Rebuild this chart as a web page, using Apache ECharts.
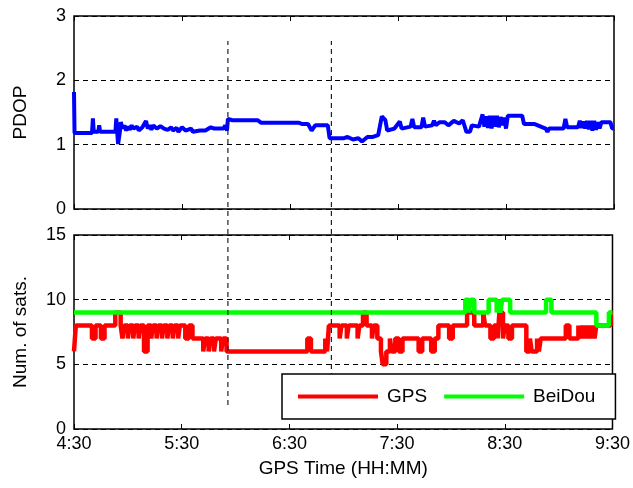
<!DOCTYPE html>
<html lang="en">
<head>
    <meta charset="UTF-8">
    <title>PDOP / Num. of sats.</title>
    <style>
        html, body { margin: 0; padding: 0; background: #fff; }
    </style>
</head>
<body>
<div id="box" style="width: 633px;height: 488px;"></div>
<script src="https://cdn.jsdelivr.net/npm/echarts@6/dist/echarts.min.js" type="text/javascript"></script>
<script type="text/javascript">
    // minutes after 4:30
    let xTickLabels = ['4:30', '5:30', '6:30', '7:30', '8:30', '9:30'];
    let markTimes = [85.5, 143];

    let pdop = [
        [0, 1.82], [0.3, 1.18], [10, 1.18], [10.5, 1.41], [11, 1.2], [13.5, 1.2], [14, 1.3], [14.5, 1.2],
        [23, 1.2], [23.5, 1.41], [24, 1.2], [24.5, 1.01], [25.5, 1.2], [26, 1.35], [27, 1.25], [28, 1.3],
        [29, 1.22], [30, 1.28], [31, 1.23], [32, 1.3], [33, 1.25], [35, 1.28], [36, 1.22], [38, 1.27], [39, 1.24],
        [40, 1.37], [41, 1.25], [42, 1.3], [43, 1.23], [44, 1.3], [46, 1.25], [48, 1.29], [50, 1.25], [52, 1.23],
        [54, 1.27], [55, 1.22], [57, 1.26], [58, 1.2], [60, 1.27], [62, 1.22], [63, 1.25], [65, 1.25],
        [66, 1.2], [70, 1.22], [73, 1.22], [76, 1.27], [78, 1.25], [79, 1.22], [83, 1.25], [84, 1.3], [85, 1.22],
        [85.5, 1.4], [88, 1.38], [92, 1.38], [102, 1.38], [104, 1.34], [125, 1.34], [127, 1.32], [130, 1.32],
        [132, 1.22], [134, 1.3], [141, 1.3], [142, 1.1], [150, 1.1], [152, 1.12], [155, 1.08], [158, 1.1],
        [160, 1.05], [163, 1.12], [166, 1.12], [169, 1.15], [171, 1.44], [173, 1.38], [174, 1.22], [178, 1.25],
        [181, 1.36], [182, 1.25], [187, 1.28], [188, 1.4], [189, 1.27], [193, 1.27], [194, 1.42], [195, 1.28],
        [199, 1.3], [200, 1.37], [201, 1.3], [203, 1.35], [206, 1.35], [208, 1.3], [211, 1.37], [214, 1.33],
        [216, 1.38], [218, 1.2], [220, 1.2], [221, 1.3], [225, 1.28], [227, 1.47], [228, 1.28], [229, 1.44],
        [230, 1.26], [231, 1.45], [232, 1.25], [233, 1.45], [234, 1.28], [235, 1.45], [236, 1.27], [237, 1.43],
        [238, 1.3], [239, 1.42], [240, 1.25], [241, 1.45], [249, 1.45], [250, 1.32], [256, 1.32], [262, 1.25],
        [263, 1.2], [264, 1.25], [272, 1.25], [273, 1.4], [274, 1.27], [280, 1.27], [281, 1.37], [282, 1.26],
        [283, 1.36], [284, 1.25], [285, 1.37], [286, 1.24], [287, 1.37], [288, 1.22], [289, 1.37], [290, 1.23],
        [291, 1.35], [292, 1.25], [293, 1.35], [298, 1.35], [299, 1.25], [300, 1.25]
    ];

    // value holds from t until next point
    let gps = [
        [0, 6], [1, 8], [10, 7], [12, 8], [15, 7], [17, 8], [23, 9], [26, 8], [27, 7], [28, 8], [30, 7], [31, 8],
        [33, 7], [34, 8], [36, 7], [37, 8], [39, 6], [41, 8], [43, 7], [44, 8], [46, 7], [47, 8], [49, 7], [50, 8],
        [52, 7], [53, 8], [55, 7], [56, 8], [58, 7], [59, 8], [62, 7], [64, 8], [66, 7], [72, 6], [73, 7], [75, 6],
        [76, 7], [78, 6], [79, 7], [82, 6], [83, 7], [85, 6], [130, 7], [132, 6], [140, 7], [141, 6], [142, 8],
        [148, 7], [149, 8], [152, 7], [153, 8], [158, 7], [159, 8], [161, 9], [163, 8], [166, 7], [167, 8],
        [169, 7], [171, 6], [172, 5], [174, 6], [176, 7], [177, 6], [179, 7], [181, 6], [183, 7], [192, 6],
        [194, 7], [199, 6], [201, 7], [203, 8], [209, 7], [211, 8], [219, 9], [223, 8], [228, 9], [229, 8],
        [232, 7], [234, 8], [236, 7], [237, 9], [239, 7], [240, 8], [242, 7], [244, 8], [252, 6], [254, 7],
        [255, 6], [258, 7], [259, 6], [260, 7], [274, 8], [276, 7], [281, 8], [282, 7], [283, 8], [284, 7],
        [285, 8], [286, 7], [287, 8], [288, 7], [289, 8], [290, 7], [291, 8], [299, 9], [300, 9]
    ];

    let beidou = [
        [0, 9], [218, 10], [220, 9], [221, 10], [223, 9], [231, 10], [235.5, 9], [236.5, 10], [237.5, 9],
        [238.5, 10], [243, 9], [263, 10], [266, 9], [291, 8], [298, 9], [300, 9]
    ];

    let font = 'Liberation Sans, Arial, sans-serif';

    let chart = echarts.init(document.getElementById('box'));

    function xAx(gridIndex, pos, labels) {
        return {
            type: 'value', gridIndex: gridIndex, position: pos,
            min: 0, max: 300, interval: 60,
            axisLine: {show: false},
            axisTick: {show: true, inside: true, length: 5, lineStyle: {color: '#000', width: 1}},
            axisLabel: {
                show: labels, color: '#000', fontSize: 18, fontFamily: font, margin: 6,
                showMinLabel: true, showMaxLabel: true,
                formatter: v => xTickLabels[Math.round(v / 60)]
            },
            splitLine: {show: false}
        };
    }

    function yAx(gridIndex, max, interval, name) {
        return {
            type: 'value', gridIndex: gridIndex, min: 0, max: max, interval: interval,
            name: name, nameLocation: 'middle', nameGap: 44, nameRotate: 90,
            nameTextStyle: {color: '#000', fontSize: 19, fontFamily: font},
            axisLine: {show: false},
            axisTick: {show: false},
            axisLabel: {color: '#000', fontSize: 18, fontFamily: font, margin: 8},
            splitLine: {show: true, lineStyle: {color: '#000', type: [5, 4], width: 1}}
        };
    }

    let option = {
        animation: false,
        backgroundColor: '#fff',
        grid: [
            {left: 74, top: 16, width: 540, height: 193, show: true, borderColor: '#000', borderWidth: 1.5, backgroundColor: 'transparent'},
            {left: 74, top: 235, width: 540, height: 194, show: true, borderColor: '#000', borderWidth: 1.5, backgroundColor: 'transparent'},
            {left: 74, top: 41, width: 540, height: 364}
        ],
        xAxis: [
            xAx(0, 'bottom', false),
            xAx(0, 'top', false),
            Object.assign(xAx(1, 'bottom', true), {
                name: 'GPS Time (HH:MM)', nameLocation: 'middle', nameGap: 30,
                nameTextStyle: {color: '#000', fontSize: 19, fontFamily: font}
            }),
            xAx(1, 'top', false),
            {type: 'value', gridIndex: 2, min: 0, max: 300, show: false}
        ],
        yAxis: [
            yAx(0, 3, 1, 'PDOP'),
            yAx(1, 15, 5, 'Num. of sats.'),
            {type: 'value', gridIndex: 2, min: 0, max: 1, show: false}
        ],
        legend: {
            left: 282, top: 374,
            padding: [13, 20, 13, 16],
            itemWidth: 80, itemHeight: 4, itemGap: 17,
            icon: 'rect',
            backgroundColor: '#fff', borderColor: '#000', borderWidth: 1.5,
            textStyle: {color: '#000', fontSize: 19, fontFamily: font, padding: [0, 0, 0, 4]},
            data: ['GPS', 'BeiDou']
        },
        series: [
            {
                name: 'PDOP', type: 'line', xAxisIndex: 0, yAxisIndex: 0,
                data: pdop, symbol: 'none', lineStyle: {color: '#0000ff', width: 4}, itemStyle: {color: '#0000ff'}
            },
            {
                name: 'GPS', type: 'line', xAxisIndex: 2, yAxisIndex: 1, step: 'end',
                data: gps, symbol: 'none', lineStyle: {color: '#ff0000', width: 4.5}, itemStyle: {color: '#ff0000'}
            },
            {
                name: 'BeiDou', type: 'line', xAxisIndex: 2, yAxisIndex: 1, step: 'end',
                data: beidou, symbol: 'none', lineStyle: {color: '#00ff00', width: 4.5}, itemStyle: {color: '#00ff00'}
            }
        ].concat(markTimes.map(t => ({
            type: 'line', xAxisIndex: 4, yAxisIndex: 2, z: 3,
            data: [[t, 0], [t, 1]], symbol: 'none',
            lineStyle: {color: '#222', width: 1.2, type: [5, 4]}
        })))
    };

    chart.setOption(option);
</script>
</body>
</html>
